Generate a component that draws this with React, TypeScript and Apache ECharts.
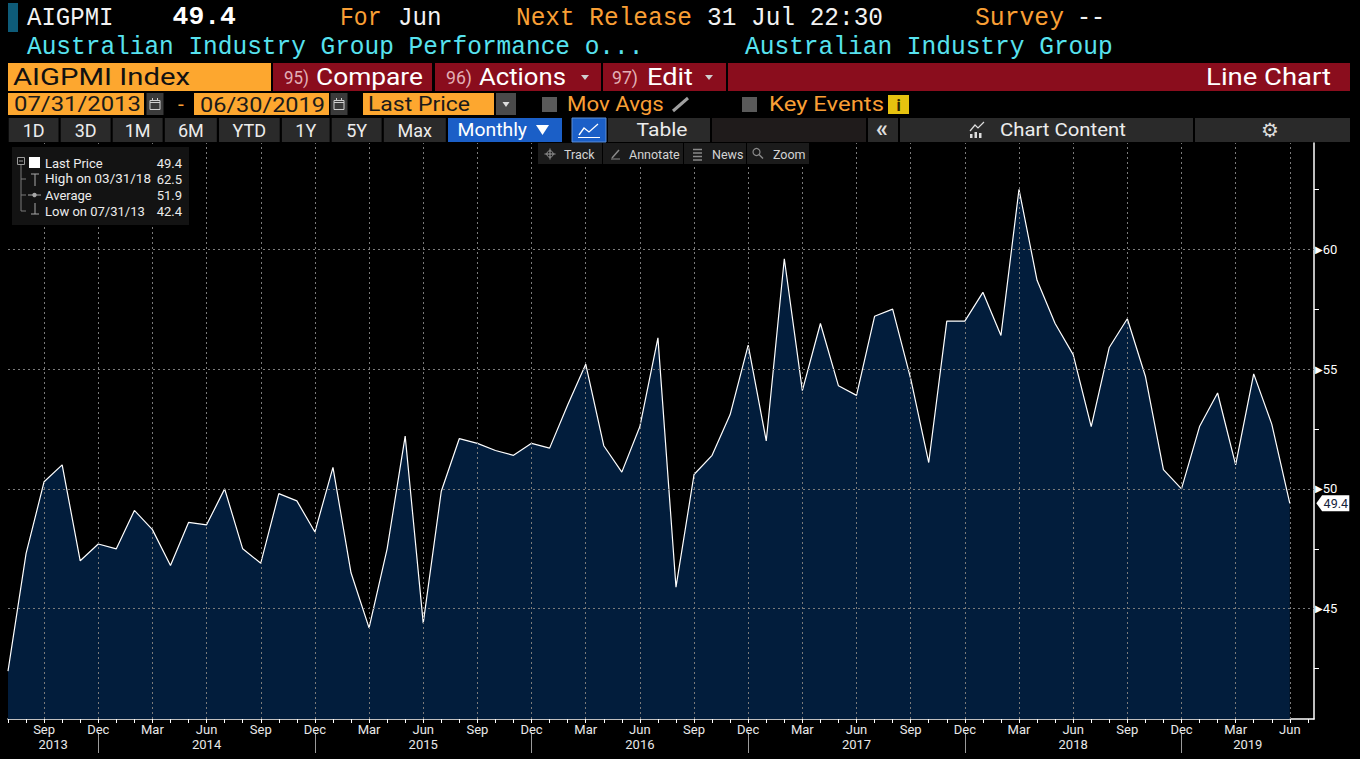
import React, { useEffect, useRef } from 'react';
import * as echarts from 'echarts';

// ---------- DATA ----------
const months: string[] = [
  'Jul 2013', 'Aug 2013', 'Sep 2013', 'Oct 2013', 'Nov 2013', 'Dec 2013',
  'Jan 2014', 'Feb 2014', 'Mar 2014', 'Apr 2014', 'May 2014', 'Jun 2014', 'Jul 2014', 'Aug 2014', 'Sep 2014', 'Oct 2014', 'Nov 2014', 'Dec 2014',
  'Jan 2015', 'Feb 2015', 'Mar 2015', 'Apr 2015', 'May 2015', 'Jun 2015', 'Jul 2015', 'Aug 2015', 'Sep 2015', 'Oct 2015', 'Nov 2015', 'Dec 2015',
  'Jan 2016', 'Feb 2016', 'Mar 2016', 'Apr 2016', 'May 2016', 'Jun 2016', 'Jul 2016', 'Aug 2016', 'Sep 2016', 'Oct 2016', 'Nov 2016', 'Dec 2016',
  'Jan 2017', 'Feb 2017', 'Mar 2017', 'Apr 2017', 'May 2017', 'Jun 2017', 'Jul 2017', 'Aug 2017', 'Sep 2017', 'Oct 2017', 'Nov 2017', 'Dec 2017',
  'Jan 2018', 'Feb 2018', 'Mar 2018', 'Apr 2018', 'May 2018', 'Jun 2018', 'Jul 2018', 'Aug 2018', 'Sep 2018', 'Oct 2018', 'Nov 2018', 'Dec 2018',
  'Jan 2019', 'Feb 2019', 'Mar 2019', 'Apr 2019', 'May 2019', 'Jun 2019',
];

const values: number[] = [
  42.4, 47.3, 50.3, 51.0, 47.0, 47.7, 47.5, 49.1, 48.3, 46.8, 48.6, 48.5,
  50.0, 47.5, 46.9, 49.8, 49.5, 48.2, 50.9, 46.5, 44.2, 47.5, 52.2, 44.4,
  49.9, 52.1, 51.9, 51.6, 51.4, 51.9, 51.7, 53.5, 55.2, 51.8, 50.7, 52.6,
  56.3, 45.9, 50.6, 51.4, 53.1, 56.0, 52.0, 59.6, 54.1, 56.9, 54.3, 53.9,
  57.2, 57.5, 54.6, 51.1, 57.0, 57.0, 58.2, 56.4, 62.5, 58.7, 56.9, 55.6,
  52.6, 55.9, 57.1, 54.7, 50.8, 50.0, 52.6, 54.0, 51.0, 54.8, 52.7, 49.4,
];

const labelMonthNames = ['Sep', 'Dec', 'Mar', 'Jun'];
const yAxisLabels = [45, 50, 55, 60];
const yAxisMinorTicks = [42.5, 47.5, 52.5, 57.5, 62.5];
const legendLabels = ['Last Price', 'High on 03/31/18', 'Average', 'Low on 07/31/13'];
const legendValues = ['49.4', '62.5', '51.9', '42.4'];
const rangeButtons = ['1D', '3D', '1M', '6M', 'YTD', '1Y', '5Y', 'Max'];
const toolButtons = ['Track', 'Annotate', 'News', 'Zoom'];

// ---------- derived ----------
const X_MAX = 72.34;
const Y_MIN = 40.4;
const Y_MAX = 64.43;
const labelIdx = months.map((m, i) => (labelMonthNames.includes(m.slice(0, 3)) ? i : -1)).filter((i) => i >= 0);
const decIdx = months.map((m, i) => (m.startsWith('Dec') ? i : -1)).filter((i) => i >= 0);
const years = Array.from(new Set(months.map((m) => m.slice(4))));
const yearCenters = years.map((y) => {
  const idx = months.map((m, i) => (m.endsWith(y) ? i : -1)).filter((i) => i >= 0);
  const first = idx[0];
  const last = idx[idx.length - 1];
  const start = Math.max(0, first - 1);
  const end = months[last].startsWith('Dec') ? last : X_MAX;
  return (start + end) / 2;
});
const lastVal = values[values.length - 1];

// ---------- styles ----------
const MONO = '"Liberation Mono", "DejaVu Sans Mono", monospace';
const SANS = 'Roboto, "Liberation Sans", sans-serif';
const ORANGE_BOX = '#fda72f';
const ORANGE_T = '#f99f35';
const CYAN = '#57e2ef';
const RED = '#8a0d1d';
const PINK = '#e2b0b6';
const BTN = '#2a2a2a';
const BLUE = '#1b5fc7';
const FILL = '#021d3c';

let measureCtx: CanvasRenderingContext2D | null = null;
function measure(str: string, size: number, family: string, weight: string) {
  if (!measureCtx) measureCtx = document.createElement('canvas').getContext('2d');
  if (!measureCtx) return 0;
  measureCtx.font = `${weight} ${size}px ${family}`;
  return measureCtx.measureText(str).width;
}

function txt(x: number, y: number, str: string, o: any) {
  const size = o.size ?? 13;
  const family = o.family ?? SANS;
  const weight = o.weight ?? 'normal';
  const align = o.align ?? 'left';
  let sx = 1;
  if (o.width) {
    const w = measure(str, size, family, weight);
    if (w > 0) sx = o.width / w;
  }
  return {
    type: 'text', x, y, scaleX: sx, silent: true, z: 100,
    style: {
      text: str, fill: o.color ?? '#fff', fontSize: size, fontFamily: family, fontWeight: weight,
      textAlign: align, textVerticalAlign: 'middle', align, verticalAlign: 'middle',
    },
  };
}
function box(x: number, y: number, w: number, h: number, fill: string, stroke?: string) {
  return {
    type: 'rect', silent: true, z: 99, shape: { x, y, width: w, height: h },
    style: stroke ? { fill, stroke, lineWidth: 1 } : { fill },
  };
}
function ln(x1: number, y1: number, x2: number, y2: number, stroke: string, lw = 1) {
  return { type: 'line', silent: true, z: 100, shape: { x1, y1, x2, y2 }, style: { stroke, lineWidth: lw } };
}
function tri(points: number[][], fill: string) {
  return { type: 'polygon', silent: true, z: 100, shape: { points }, style: { fill } };
}
function calendar(x: number, y: number) {
  return [
    box(x, y, 17, 22, '#3a3a3a'),
    box(x + 3.5, y + 7.5, 10, 9, 'none', '#d0d0d0'),
    ln(x + 3.5, y + 9.5, x + 13.5, y + 9.5, '#d0d0d0'),
    ln(x + 6, y + 5, x + 6, y + 8, '#d0d0d0'),
    ln(x + 11, y + 5, x + 11, y + 8, '#d0d0d0'),
  ];
}

function buildGraphic() {
  const g: any[] = [];
  // Row 1
  g.push(box(8, 3, 10, 29, '#0e5b78'));
  g.push(txt(27, 18, 'AIGPMI', { size: 25, family: MONO, color: '#f2f2f2', width: 86.6 }));
  g.push(txt(172.6, 18, legendValues[0], { size: 25, family: MONO, weight: 'bold', color: '#ffffff', width: 63.4 }));
  g.push(txt(340, 18, 'For', { size: 25, family: MONO, color: ORANGE_T, width: 41.6 }));
  g.push(txt(398, 18, 'Jun', { size: 25, family: MONO, color: '#f2f2f2', width: 43.5 }));
  g.push(txt(516, 18, 'Next Release', { size: 25, family: MONO, color: ORANGE_T, width: 176 }));
  g.push(txt(707, 18, '31 Jul 22:30', { size: 25, family: MONO, color: '#f2f2f2', width: 176 }));
  g.push(txt(975, 18, 'Survey', { size: 25, family: MONO, color: ORANGE_T, width: 89 }));
  g.push(txt(1077, 18, '--', { size: 25, family: MONO, color: '#f2f2f2', width: 28 }));
  // Row 2
  g.push(txt(27, 47, 'Australian Industry Group Performance o...', { size: 25, family: MONO, color: CYAN, width: 617 }));
  g.push(txt(745, 47, 'Australian Industry Group', { size: 25, family: MONO, color: CYAN, width: 368 }));
  // Row 3
  g.push(box(8, 63, 263, 28, ORANGE_BOX));
  g.push(txt(13, 77, 'AIGPMI Index', { size: 24, color: '#111111', width: 177 }));
  g.push(box(273, 63, 159, 28, RED));
  g.push(txt(284, 77, '95)', { size: 19, color: PINK, width: 25 }));
  g.push(txt(316, 77, 'Compare', { size: 24, color: '#ffffff', width: 107 }));
  g.push(box(435, 63, 166, 28, RED));
  g.push(txt(446, 77, '96)', { size: 19, color: PINK, width: 26 }));
  g.push(txt(479, 77, 'Actions', { size: 24, color: '#ffffff', width: 87 }));
  g.push(tri([[581, 75], [589, 75], [585, 80]], '#cfcfcf'));
  g.push(box(603, 63, 123, 28, RED));
  g.push(txt(612, 77, '97)', { size: 19, color: PINK, width: 26 }));
  g.push(txt(647, 77, 'Edit', { size: 24, color: '#ffffff', width: 46 }));
  g.push(tri([[705, 75], [713, 75], [709, 80]], '#cfcfcf'));
  g.push(box(728, 63, 622, 28, RED));
  g.push(txt(1331, 77, 'Line Chart', { size: 24, color: '#ffffff', width: 125, align: 'right' }));
  // Row 4
  g.push(box(8, 93, 136, 22, ORANGE_BOX));
  g.push(txt(14, 104, '07/31/2013', { size: 21, color: '#1a1a1a', width: 127 }));
  g.push(...calendar(146.5, 93));
  g.push(txt(178, 104, '-', { size: 21, color: ORANGE_T }));
  g.push(box(194, 93, 135, 22, ORANGE_BOX));
  g.push(txt(200, 104, '06/30/2019', { size: 21, color: '#1a1a1a', width: 125 }));
  g.push(...calendar(330.5, 93));
  g.push(box(363, 93, 131, 22, ORANGE_BOX));
  g.push(txt(368, 104, 'Last Price', { size: 21, color: '#1a1a1a', width: 102 }));
  g.push(box(496, 93, 20, 22, '#4a4a4a'));
  g.push(tri([[502.5, 102], [509.5, 102], [506, 107]], '#dddddd'));
  g.push(box(542, 97, 15, 15, '#5a5a5a'));
  g.push(txt(567, 104, 'Mov Avgs', { size: 21, color: ORANGE_T, width: 97 }));
  g.push(ln(673, 111, 688, 98, '#a0a0a0', 3));
  g.push(box(742, 97, 15, 15, '#5a5a5a'));
  g.push(txt(769, 104, 'Key Events', { size: 21, color: ORANGE_T, width: 115 }));
  g.push(box(888, 95, 21, 19, '#e6c20f'));
  g.push(txt(898.5, 105, 'i', { size: 16, weight: 'bold', color: '#2a2200', align: 'center' }));
  // Row 5
  const rb = [[8.7, 58.5], [60.7, 110.6], [112.7, 162.6], [164.8, 216.8], [219, 279.7], [281.9, 329.6], [331.7, 381.6], [383.8, 445.8]];
  rangeButtons.forEach((b, i) => {
    g.push(box(rb[i][0], 118, rb[i][1] - rb[i][0], 24, BTN));
    g.push(txt((rb[i][0] + rb[i][1]) / 2, 130, b, { size: 18, color: '#ececec', align: 'center' }));
  });
  g.push(box(448, 118, 114, 24, BLUE));
  g.push(txt(457.5, 130, 'Monthly', { size: 18, color: '#ffffff', width: 69.5 }));
  g.push(tri([[536, 125], [549, 125], [542.5, 135]], '#ffffff'));
  g.push(box(572, 118, 34, 24, BLUE, '#5d8fd8'));
  g.push({ type: 'polyline', silent: true, z: 100, shape: { points: [[579, 135], [584, 128], [589, 132], [598, 124]] }, style: { stroke: '#ffffff', fill: 'none', lineWidth: 1.3 } });
  g.push(ln(578, 137.5, 600, 137.5, '#ffffff', 1));
  g.push(box(608, 118, 102, 24, BTN));
  g.push(txt(662, 130, 'Table', { size: 18, color: '#ececec', align: 'center', width: 51 }));
  g.push(box(712, 118, 154, 24, '#1f1b1b'));
  g.push(box(868, 118, 30, 24, BTN));
  g.push(txt(882, 129, '«', { size: 24, color: '#dddddd', align: 'center', weight: 'bold' }));
  g.push(box(900, 118, 293, 24, BTN));
  g.push({ type: 'polyline', silent: true, z: 100, shape: { points: [[970, 131], [975, 125], [978, 128], [984, 122]] }, style: { stroke: '#dddddd', fill: 'none', lineWidth: 1.2 } });
  g.push(box(970, 134, 2.5, 4, '#dddddd'));
  g.push(box(974.5, 132, 2.5, 6, '#dddddd'));
  g.push(box(979, 133, 2.5, 5, '#dddddd'));
  g.push(txt(1000, 130, 'Chart Content', { size: 18, color: '#ececec', width: 126 }));
  g.push(box(1195, 118, 155, 24, BTN));
  g.push(txt(1270, 130, '⚙', { size: 20, color: '#dddddd', align: 'center', family: '"DejaVu Sans", sans-serif' }));

  // Track toolbar
  const tb = [[538, 602], [603, 683], [684, 746], [747, 809]];
  const tx = [564, 629, 712, 773];
  toolButtons.forEach((t, i) => {
    g.push(box(tb[i][0], 143, tb[i][1] - tb[i][0], 21, '#1b1b1b'));
    g.push(txt(tx[i], 154, t, { size: 12.5, color: '#d4d4d4' }));
  });
  g.push({ type: 'circle', silent: true, z: 100, shape: { cx: 550, cy: 154, r: 3.2 }, style: { fill: 'none', stroke: '#9a9a9a', lineWidth: 1 } });
  g.push(ln(544.5, 154, 555.5, 154, '#9a9a9a'));
  g.push(ln(550, 148.5, 550, 159.5, '#9a9a9a'));
  g.push(ln(612, 158, 619, 150, '#8a8a8a', 1.5));
  g.push(ln(611, 159, 620, 159, '#8a8a8a', 1));
  g.push(ln(693, 149.5, 702, 149.5, '#8a8a8a', 1.5));
  g.push(ln(693, 153, 702, 153, '#8a8a8a', 1.5));
  g.push(ln(693, 156.5, 702, 156.5, '#8a8a8a', 1.5));
  g.push(ln(693, 160, 702, 160, '#8a8a8a', 1.5));
  g.push({ type: 'circle', silent: true, z: 100, shape: { cx: 756.5, cy: 152, r: 3.5 }, style: { fill: 'none', stroke: '#8a8a8a', lineWidth: 1.2 } });
  g.push(ln(759, 154.5, 763, 158.5, '#8a8a8a', 1.5));

  // Legend box
  g.push(box(12, 147, 177, 78, '#131313'));
  g.push(box(17.5, 157.5, 7, 7, 'none', '#9a9a9a'));
  g.push(ln(19, 161, 23, 161, '#9a9a9a'));
  g.push(box(29, 157, 11, 11, '#ffffff'));
  g.push(ln(21, 165, 21, 211, '#7a7a7a'));
  [179, 195, 211].forEach((yy) => g.push(ln(21, yy, 26, yy, '#7a7a7a')));
  g.push(ln(35, 174, 35, 186, '#a8a8a8'));
  g.push(ln(31, 174, 39, 174, '#a8a8a8'));
  g.push(ln(28, 195, 41, 195, '#a8a8a8'));
  g.push({ type: 'circle', silent: true, z: 100, shape: { cx: 34.5, cy: 195, r: 2.2 }, style: { fill: '#a8a8a8' } });
  g.push(ln(35, 203, 35, 214, '#a8a8a8'));
  g.push(ln(31, 214, 39, 214, '#a8a8a8'));
  const ly = [163, 179, 195, 211];
  legendLabels.forEach((l, i) => {
    g.push(txt(45, ly[i], l, { size: 13, color: '#ececec', width: i === 1 ? 106 : undefined }));
    g.push(txt(182, ly[i], legendValues[i], { size: 13, color: '#ececec', align: 'right' }));
  });
  return g;
}

export default function App() {
  const ref = useRef<HTMLDivElement>(null);
  useEffect(() => {
    if (!ref.current) return;
    const chart = echarts.init(ref.current, null, { renderer: 'svg', width: 1360, height: 759 });
    const seriesData = values.map((v, i) => [i, v]);
    const option: any = {
      animation: false,
      backgroundColor: '#000000',
      grid: { left: 8, right: 46, top: 143, bottom: 40, containLabel: false, outerBoundsMode: 'none' },
      xAxis: [
        {
          type: 'value', min: 0, max: X_MAX, position: 'bottom',
          axisLine: { show: true, onZero: false, lineStyle: { color: '#ffffff', width: 1.5 } },
          axisTick: { show: true, customValues: months.map((_, i) => i).concat([months.length]), length: 4, lineStyle: { color: '#ffffff' } },
          axisLabel: {
            show: true, customValues: labelIdx, margin: 4, color: '#e8e8e8', fontSize: 13, fontFamily: SANS,
            formatter: (v: number) => (months[Math.round(v)] || '').slice(0, 3),
          },
          splitLine: { show: false },
        },
        {
          type: 'value', min: 0, max: X_MAX, position: 'bottom', offset: 13,
          axisLine: { show: false, onZero: false },
          axisTick: { show: true, customValues: decIdx, length: 21, lineStyle: { color: '#9a9a9a' } },
          axisLabel: {
            show: true, customValues: yearCenters, margin: 6, color: '#e8e8e8', fontSize: 13, fontFamily: SANS,
            formatter: (v: number) => {
              const k = yearCenters.findIndex((c) => Math.abs(c - v) < 1e-6);
              return k >= 0 ? years[k] : '';
            },
          },
          splitLine: { show: false },
        },
      ],
      yAxis: {
        type: 'value', position: 'right', min: Y_MIN, max: Y_MAX,
        axisLine: { show: true, onZero: false, lineStyle: { color: '#ffffff', width: 1.5 } },
        axisTick: { show: true, customValues: yAxisMinorTicks, length: 5, lineStyle: { color: '#ffffff' } },
        axisLabel: {
          show: true, customValues: yAxisLabels, margin: 1,
          formatter: (v: number) => `{t|▶}{v|${v}}`,
          rich: {
            t: { fontSize: 10, color: '#ffffff', fontFamily: '"DejaVu Sans", sans-serif' },
            v: { fontSize: 13, color: '#ffffff', fontFamily: SANS },
          },
        },
        splitLine: { show: false },
      },
      series: [
        {
          type: 'line', data: seriesData, symbol: 'none', silent: true, z: 1,
          lineStyle: { width: 0, opacity: 0 },
          areaStyle: { color: FILL, opacity: 1 },
        },
        {
          type: 'line', data: seriesData, symbol: 'none', silent: true, z: 2,
          lineStyle: { width: 0, opacity: 0 },
          markLine: {
            silent: true, symbol: ['none', 'none'], label: { show: false },
            lineStyle: { color: '#7a7a7a', type: [2, 3], width: 1 },
            emphasis: { disabled: true },
            data: [...labelIdx.map((i) => ({ xAxis: i })), ...yAxisLabels.map((v) => ({ yAxis: v }))],
          },
        },
        {
          type: 'line', data: seriesData, symbol: 'none', silent: true, z: 3,
          lineStyle: { color: '#ffffff', width: 1.2 },
          markPoint: {
            silent: true,
            symbol: 'path://M0,8 L6,0 L34,0 L34,16 L6,16 Z',
            symbolSize: [33, 16],
            symbolOffset: [43, 0],
            itemStyle: { color: '#ffffff' },
            label: { show: true, position: 'inside', formatter: String(lastVal), color: '#14243c', fontSize: 12.5, fontFamily: SANS, offset: [3, 0] },
            data: [{ coord: [values.length - 1, lastVal] }],
          },
        },
      ],
      graphic: { elements: buildGraphic() },
    };
    chart.setOption(option);
    return () => chart.dispose();
  }, []);
  return <div ref={ref} style={{ position: 'fixed', left: 0, top: 0, width: 1360, height: 759, background: '#000' }} />;
}
